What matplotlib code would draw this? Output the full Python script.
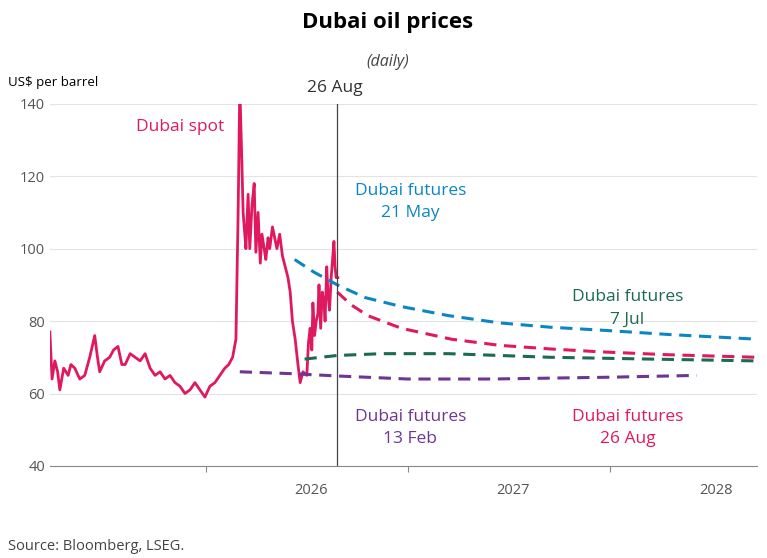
import matplotlib.pyplot as plt
import pandas as pd

plt.rcParams['font.family'] = ['Open Sans', 'DejaVu Sans']

# spot: days since 2025-03-25, price
spot_days = [0, 4, 9, 14, 18, 25, 33, 38, 45, 54, 63, 72, 81, 86, 90, 99, 108, 115, 123, 130, 136,
             145, 154, 163, 172, 181, 190, 199, 208, 217, 226, 235, 244, 253, 262, 271, 280,
             289, 298, 307, 316, 323, 330, 336, 340, 343, 346, 349, 352, 354, 358, 361, 365, 369,
             372, 376, 380, 383, 387, 390, 394, 397, 402, 406, 410, 415, 420, 425, 430, 434,
             438, 443, 448, 452, 457, 464, 467, 470, 473, 475, 478, 481, 484, 486, 489, 492,
             495, 497, 500, 502, 505, 508, 511, 513, 515, 517, 520]
spot_vals = [77, 64, 69, 66, 61, 67, 65, 68, 67, 64, 65, 70, 76, 70, 66, 69, 70, 72, 73, 68, 68,
             71, 70, 69, 71, 67, 65, 66, 64, 65, 63, 62, 60, 61, 63, 61, 59, 62, 63, 65, 67, 68, 70,
             75, 110, 145, 128, 110, 104, 100, 115, 100, 112, 118, 99, 110, 96, 104, 100, 97, 103,
             100, 106, 103, 100, 104, 98, 95, 92, 88, 80, 75, 68, 63, 66, 65, 74, 78, 72, 85, 76,
             80, 82, 90, 78, 88, 85, 80, 95, 88, 83, 92, 98, 102, 95, 92, 92]
spot_start = pd.Timestamp('2025-03-25')

fut_feb_dates = ['2026-03-03', '2026-06-01', '2026-09-01', '2027-01-01', '2027-06-01', '2028-01-01', '2028-06-05']
fut_feb_vals = [66, 65.5, 64.8, 64, 64, 64.5, 65]
fut_may_dates = ['2026-06-10', '2026-07-15', '2026-08-26', '2026-10-15', '2026-12-20', '2027-03-15',
                 '2027-06-15', '2027-09-15', '2027-12-15', '2028-04-15', '2028-09-22']
fut_may_vals = [97, 93.5, 90, 86.5, 84, 81.5, 79.5, 78.3, 77.5, 76.3, 75]
fut_jul_dates = ['2026-06-28', '2026-08-26', '2026-11-15', '2027-03-15', '2027-09-15', '2028-03-15', '2028-09-22']
fut_jul_vals = [69.5, 70.5, 71, 71, 70, 69.5, 69]
fut_aug_dates = ['2026-08-26', '2026-09-20', '2026-10-20', '2026-12-20', '2027-03-20', '2027-06-15',
                 '2027-09-15', '2027-12-15', '2028-04-15', '2028-09-22']
fut_aug_vals = [88, 84.5, 81.5, 78, 75, 73.3, 72.3, 71.5, 70.7, 70]

PINK = '#e0195f'
BLUE = '#0b86c4'
GREEN = '#1b6a52'
PURPLE = '#6e3593'

fig = plt.figure(figsize=(7.67, 5.58), dpi=100)
ax = fig.add_axes([0.065, 0.165, 0.922, 0.649])

spot_x = [spot_start + pd.Timedelta(days=d) for d in spot_days]
ax.plot(spot_x, spot_vals, color=PINK, lw=2)
for d, v, c in [(fut_feb_dates, fut_feb_vals, PURPLE), (fut_may_dates, fut_may_vals, BLUE),
                (fut_jul_dates, fut_jul_vals, GREEN), (fut_aug_dates, fut_aug_vals, PINK)]:
    ax.plot(pd.to_datetime(d), v, color=c, lw=2.2, ls=(0, (4, 2.5)))

ax.axvline(pd.Timestamp('2026-08-26'), color='#444444', lw=0.9)
ax.set_ylim(40, 140)
ax.set_xlim(pd.Timestamp('2025-03-25'), pd.Timestamp('2028-09-22'))
ax.set_yticks([40, 60, 80, 100, 120, 140])
ax.grid(axis='y', color='#e3e3e3', lw=0.8)
ax.set_axisbelow(True)
for s in ['left', 'right', 'top']:
    ax.spines[s].set_visible(False)
ax.spines['bottom'].set_color('#888888')
ax.tick_params(axis='y', length=0, labelsize=10.5, colors='#555555')
ax.set_xticks(pd.to_datetime(['2026-01-01', '2027-01-01', '2028-01-01']))
ax.set_xticklabels([])
ax.set_xticks(pd.to_datetime(['2026-07-10', '2027-07-10', '2028-07-10']), minor=True)
ax.set_xticklabels(['2026', '2027', '2028'], minor=True)
ax.tick_params(axis='x', which='major', length=4, color='#888888')
ax.tick_params(axis='x', which='minor', length=0, labelsize=10.5, colors='#555555', pad=12)

kw = dict(fontsize=12.5, ha='center', va='center', linespacing=1.5)
ax.text(pd.Timestamp('2025-11-15'), 133.5, 'Dubai spot', color=PINK, **kw)
ax.text(pd.Timestamp('2027-01-05'), 113, 'Dubai futures\n21 May', color=BLUE, **kw)
ax.text(pd.Timestamp('2028-02-01'), 83.5, 'Dubai futures\n7 Jul', color=GREEN, **kw)
ax.text(pd.Timestamp('2027-01-05'), 50.5, 'Dubai futures\n13 Feb', color=PURPLE, **kw)
ax.text(pd.Timestamp('2028-02-01'), 50.5, 'Dubai futures\n26 Aug', color=PINK, **kw)

fig.text(0.505, 0.96, 'Dubai oil prices', ha='center', va='center', fontsize=16, fontweight='bold')
fig.text(0.505, 0.889, '(daily)', ha='center', va='center', fontsize=11.5, style='italic', color='#444444')
fig.text(0.01, 0.853, 'US$ per barrel', ha='left', va='center', fontsize=9.5)
fig.text(335 / 767, 0.842, '26 Aug', ha='center', va='center', fontsize=12.5, color='#333333')
fig.text(0.01, 0.02, 'Source: Bloomberg, LSEG.', ha='left', va='center', fontsize=10.5, color='#444444')

fig.savefig('out.png', dpi=100)
